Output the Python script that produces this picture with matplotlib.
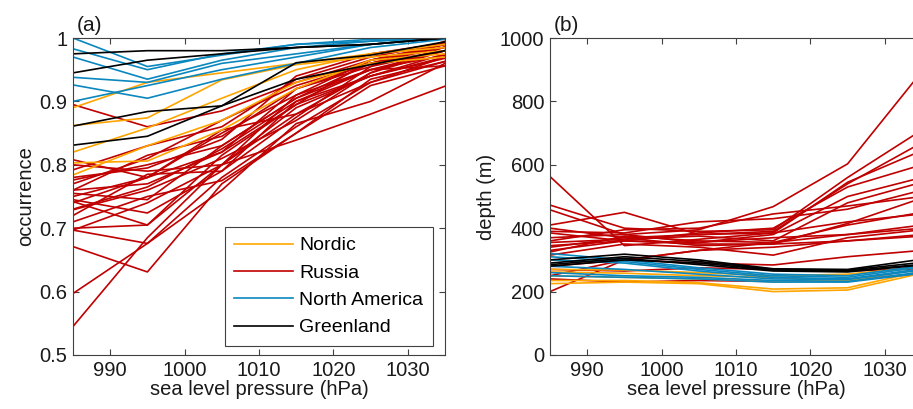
import numpy as np
import matplotlib
matplotlib.use("Agg")
import matplotlib.pyplot as plt

plt.rcParams['font.family'] = ['Liberation Sans', 'DejaVu Sans']

# sea level pressure bins (hPa)
slp = [985, 995, 1005, 1015, 1025, 1035]

# (a) occurrence per station
occ_nordic = [
    [0.890, 0.930, 0.945, 0.960, 0.975, 0.985],
    [0.862, 0.874, 0.934, 0.958, 0.970, 0.980],
    [0.820, 0.858, 0.905, 0.950, 0.975, 0.990],
    [0.803, 0.806, 0.855, 0.920, 0.965, 0.975],
    [0.784, 0.830, 0.870, 0.930, 0.960, 0.970],
]
occ_russia = [
    [0.895, 0.860, 0.885, 0.930, 0.965, 0.985],
    [0.808, 0.780, 0.850, 0.910, 0.950, 0.980],
    [0.792, 0.830, 0.860, 0.935, 0.970, 0.992],
    [0.776, 0.800, 0.830, 0.905, 0.960, 0.980],
    [0.760, 0.815, 0.845, 0.920, 0.955, 0.995],
    [0.750, 0.780, 0.820, 0.895, 0.940, 0.968],
    [0.742, 0.705, 0.800, 0.880, 0.930, 0.963],
    [0.729, 0.760, 0.810, 0.870, 0.945, 0.986],
    [0.720, 0.785, 0.790, 0.900, 0.950, 0.973],
    [0.697, 0.676, 0.780, 0.860, 0.930, 0.970],
    [0.697, 0.740, 0.800, 0.910, 0.965, 0.990],
    [0.671, 0.631, 0.770, 0.850, 0.925, 0.956],
    [0.597, 0.676, 0.760, 0.865, 0.900, 0.960],
    [0.545, 0.685, 0.800, 0.890, 0.940, 0.975],
    [0.800, 0.790, 0.800, 0.839, 0.880, 0.924],
    [0.760, 0.770, 0.820, 0.920, 0.960, 0.990],
    [0.745, 0.724, 0.790, 0.875, 0.955, 0.980],
    [0.780, 0.795, 0.840, 0.940, 0.975, 0.992],
    [0.730, 0.765, 0.825, 0.900, 0.940, 0.970],
    [0.710, 0.750, 0.775, 0.850, 0.935, 0.963],
    [0.770, 0.810, 0.870, 0.925, 0.960, 0.986],
    [0.740, 0.780, 0.855, 0.880, 0.945, 0.980],
    [0.700, 0.705, 0.815, 0.895, 0.965, 0.990],
    [0.755, 0.745, 0.830, 0.905, 0.950, 0.956],
]
occ_namerica = [
    [1.000, 0.955, 0.973, 0.990, 0.995, 1.000],
    [0.983, 0.950, 0.975, 0.990, 0.998, 1.000],
    [0.970, 0.935, 0.965, 0.985, 0.995, 1.000],
    [0.938, 0.930, 0.960, 0.975, 0.990, 1.000],
    [0.926, 0.905, 0.935, 0.960, 0.985, 0.998],
    [0.900, 0.925, 0.950, 0.970, 0.990, 1.000],
]
occ_greenland = [
    [0.975, 0.980, 0.980, 0.985, 0.990, 1.000],
    [0.945, 0.965, 0.975, 0.985, 0.990, 1.000],
    [0.861, 0.884, 0.893, 0.961, 0.973, 0.994],
    [0.831, 0.845, 0.893, 0.935, 0.958, 0.980],
]

# (b) depth (m) per station
dep_nordic = [
    [225, 230, 225, 200, 205, 258],
    [235, 235, 228, 208, 212, 265],
    [262, 258, 250, 245, 235, 272],
    [270, 268, 260, 250, 255, 278],
    [250, 245, 240, 232, 236, 258],
]
dep_russia = [
    [563, 345, 365, 385, 420, 445],
    [473, 400, 390, 395, 560, 710],
    [458, 380, 395, 468, 603, 895],
    [410, 450, 380, 390, 540, 670],
    [400, 370, 380, 385, 545, 645],
    [385, 360, 385, 400, 530, 600],
    [370, 380, 355, 380, 500, 560],
    [355, 365, 375, 360, 480, 545],
    [340, 370, 345, 350, 415, 495],
    [325, 375, 360, 355, 410, 450],
    [315, 350, 340, 315, 370, 395],
    [200, 300, 330, 340, 360, 380],
    [360, 395, 400, 445, 470, 500],
    [390, 385, 420, 430, 460, 520],
    [345, 360, 355, 370, 380, 400],
    [330, 360, 350, 350, 360, 375],
    [250, 300, 290, 284, 310, 330],
    [240, 230, 235, 232, 240, 255],
    [270, 265, 275, 270, 265, 272],
    [280, 300, 330, 355, 380, 410],
]
dep_namerica = [
    [320, 300, 275, 255, 250, 282],
    [310, 295, 270, 250, 245, 278],
    [300, 290, 265, 245, 240, 272],
    [280, 270, 255, 240, 238, 268],
    [260, 250, 245, 235, 232, 262],
    [250, 245, 240, 230, 230, 258],
]
dep_greenland = [
    [300, 318, 300, 272, 270, 302],
    [290, 310, 295, 270, 268, 292],
    [280, 300, 290, 268, 265, 286],
    [285, 305, 285, 265, 262, 284],
]

regions = ['Nordic', 'Russia', 'North America', 'Greenland']
colors = {'Nordic': '#FFA500', 'Russia': '#C00000',
          'North America': '#0A87BE', 'Greenland': '#000000'}
draw_order = ['Russia', 'Nordic', 'North America', 'Greenland']

occ = {'Nordic': occ_nordic, 'Russia': occ_russia,
       'North America': occ_namerica, 'Greenland': occ_greenland}
dep = {'Nordic': dep_nordic, 'Russia': dep_russia,
       'North America': dep_namerica, 'Greenland': dep_greenland}

fig = plt.figure(figsize=(9.13, 4.09), dpi=100)
W, H = 913, 409
ax1 = fig.add_axes([73 / W, 54 / H, 372 / W, 317 / H])
ax2 = fig.add_axes([550 / W, 54 / H, 372 / W, 317 / H])

handles = {}
for ax, data in [(ax1, occ), (ax2, dep)]:
    for reg in draw_order:
        for row in data[reg]:
            ln, = ax.plot(slp, row, color=colors[reg], lw=1.2)
            handles[reg] = ln

fs = 14.5
txtcol = '#1a1a1a'
axcol = '#404040'
for ax in (ax1, ax2):
    ax.set_xlim(985, 1035)
    ax.set_xticks([990, 1000, 1010, 1020, 1030])
    ax.tick_params(direction='in', top=True, right=True, length=4,
                   width=0.8, color=axcol, labelsize=fs, labelcolor=txtcol,
                   pad=4)
    for s in ax.spines.values():
        s.set_color(axcol)
        s.set_linewidth(0.8)
    ax.set_xlabel('sea level pressure (hPa)', fontsize=fs, color=txtcol,
                  labelpad=0)

ax1.set_ylim(0.5, 1)
ax1.set_yticks([0.5, 0.6, 0.7, 0.8, 0.9, 1.0])
ax1.set_yticklabels(['0.5', '0.6', '0.7', '0.8', '0.9', '1'])
ax1.set_ylabel('occurrence', fontsize=fs, color=txtcol, labelpad=3)

ax2.set_ylim(0, 1000)
ax2.set_yticks([0, 200, 400, 600, 800, 1000])
ax2.set_ylabel('depth (m)', fontsize=fs, color=txtcol, labelpad=3)

ax1.text(0.01, 1.01, '(a)', transform=ax1.transAxes, fontsize=15,
         color=txtcol, va='bottom', ha='left')
ax2.text(0.01, 1.01, '(b)', transform=ax2.transAxes, fontsize=15,
         color=txtcol, va='bottom', ha='left')

leg = ax1.legend([handles[r] for r in regions], regions, loc='lower right',
                 bbox_to_anchor=(0.968, 0.028), fontsize=14,
                 handlelength=3.0, labelspacing=0.5, fancybox=False,
                 framealpha=1, borderpad=0.5, handletextpad=0.35,
                 borderaxespad=0)
leg.get_frame().set_edgecolor(axcol)
leg.get_frame().set_linewidth(0.8)

fig.savefig('out.png', dpi=100)
